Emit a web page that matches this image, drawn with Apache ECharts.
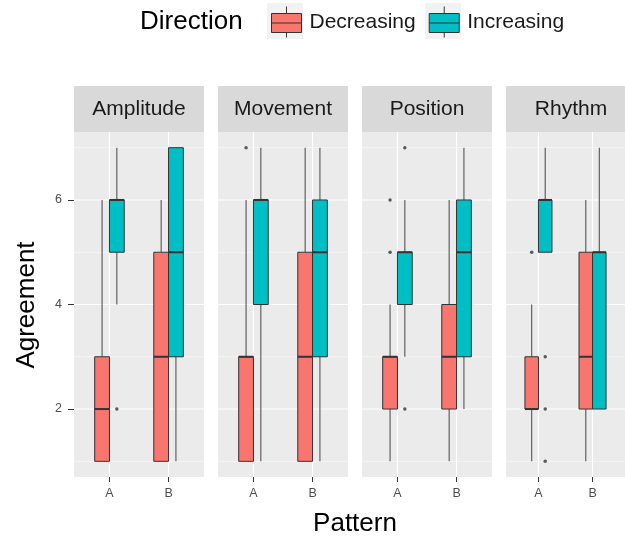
<!DOCTYPE html>
<html><head><meta charset="utf-8">
<script src="https://cdn.jsdelivr.net/npm/echarts@6/dist/echarts.min.js"></script>
<style>html,body{margin:0;padding:0;background:#fff}#c{width:625px;height:538px}</style>
</head><body><div id="c"></div>
<script>
// ---- data ----
const panels = ['Amplitude', 'Movement', 'Position', 'Rhythm'];
const patterns = ['A', 'B'];
const directions = ['Decreasing', 'Increasing'];
const yTicks = [2, 4, 6];
const yMinor = [1, 3, 5, 7];
// five-number summaries [min, Q1, median, Q3, max] for pattern A, pattern B
const amplitudeDecreasing = [[1, 1, 2, 3, 6], [1, 1, 3, 5, 6]];
const amplitudeIncreasing = [[4, 5, 6, 6, 7], [1, 3, 5, 7, 7]];
const movementDecreasing  = [[1, 1, 3, 3, 6], [1, 1, 3, 5, 7]];
const movementIncreasing  = [[1, 4, 6, 6, 7], [1, 3, 5, 6, 7]];
const positionDecreasing  = [[1, 2, 3, 3, 4], [1, 2, 3, 4, 6]];
const positionIncreasing  = [[3, 4, 5, 5, 6], [2, 3, 5, 6, 7]];
const rhythmDecreasing    = [[1, 2, 2, 3, 4], [1, 2, 3, 5, 6]];
const rhythmIncreasing    = [[5, 5, 6, 6, 7], [2, 2, 5, 5, 7]];
// outliers for pattern A, pattern B
const amplitudeDecreasingOut = [[], []];
const amplitudeIncreasingOut = [[2], []];
const movementDecreasingOut  = [[7], []];
const movementIncreasingOut  = [[], []];
const positionDecreasingOut  = [[5, 6], []];
const positionIncreasingOut  = [[2, 7], []];
const rhythmDecreasingOut    = [[5], []];
const rhythmIncreasingOut    = [[1, 2, 3], []];

const summaries = [
  [amplitudeDecreasing, amplitudeIncreasing],
  [movementDecreasing, movementIncreasing],
  [positionDecreasing, positionIncreasing],
  [rhythmDecreasing, rhythmIncreasing]
];
const outliers = [
  [amplitudeDecreasingOut, amplitudeIncreasingOut],
  [movementDecreasingOut, movementIncreasingOut],
  [positionDecreasingOut, positionIncreasingOut],
  [rhythmDecreasingOut, rhythmIncreasingOut]
];

// ---- style / layout ----
const colors = ['#F8766D', '#00BFC4'];
const FONT = '"Liberation Sans", Arial, Helvetica, sans-serif';
const gridLeft = [74, 218, 362, 506];
const gridW = 130, gridTop = 132, gridH = 345;
const halfBox = 0.125;          // half width of one dodged box (x units)
const dodge = [-0.125, 0.125];   // dodge offset per direction

const catPos = patterns.map((p, i) => i + 1);

function boxRender(color, off) {
  return function (params, api) {
    const x = api.value(0) + off;
    const l = api.coord([x - halfBox, 1])[0];
    const r = api.coord([x + halfBox, 1])[0];
    const c = api.coord([x, 1])[0];
    const y = k => api.coord([x, api.value(k)])[1];
    const yMin = y(1), yQ1 = y(2), yMed = y(3), yQ3 = y(4), yMax = y(5);
    const wStyle = { stroke: '#555555', lineWidth: 1.1 };
    return {
      type: 'group',
      children: [
        { type: 'line', shape: { x1: c, y1: yQ3, x2: c, y2: yMax }, style: wStyle },
        { type: 'line', shape: { x1: c, y1: yQ1, x2: c, y2: yMin }, style: wStyle },
        { type: 'rect', shape: { x: l, y: yQ3, width: r - l, height: yQ1 - yQ3 },
          style: { fill: color, stroke: '#333333', lineWidth: 1 } },
        { type: 'line', shape: { x1: l, y1: yMed, x2: r, y2: yMed },
          style: { stroke: '#333333', lineWidth: 2 } }
      ]
    };
  };
}

function gridLineRender(params, api) {
  const cs = params.coordSys;
  const dir = api.value(0), v = api.value(1), major = api.value(2);
  const w = major ? 1.1 : 0.5;
  if (dir === 1) {
    const yy = api.coord([1, v])[1];
    return { type: 'line', shape: { x1: cs.x, y1: yy, x2: cs.x + cs.width, y2: yy },
      style: { stroke: '#ffffff', lineWidth: w } };
  }
  const xx = api.coord([v, 4])[0];
  return { type: 'line', shape: { x1: xx, y1: cs.y, x2: xx, y2: cs.y + cs.height },
    style: { stroke: '#ffffff', lineWidth: w } };
}

const grids = [], xAxes = [], yAxes = [], series = [], graphics = [];
panels.forEach((name, i) => {
  grids.push({ left: gridLeft[i], top: gridTop, width: gridW, height: gridH,
    show: true, backgroundColor: '#EBEBEB', borderWidth: 0 });
  xAxes.push({
    gridIndex: i, type: 'value', min: 0.4, max: 2.6,
    axisLine: { show: false }, splitLine: { show: false },
    axisTick: { show: true, customValues: catPos, length: 5, lineStyle: { color: '#333333', width: 1 } },
    axisLabel: { show: true, customValues: catPos, margin: 10, color: '#4D4D4D', fontSize: 12.5,
      fontFamily: FONT, formatter: v => patterns[Math.round(v) - 1] }
  });
  yAxes.push({
    gridIndex: i, type: 'value', min: 0.7, max: 7.3,
    axisLine: { show: false }, splitLine: { show: false },
    axisTick: { show: i === 0, customValues: yTicks, length: 6, lineStyle: { color: '#333333', width: 1 } },
    axisLabel: { show: i === 0, customValues: yTicks, margin: 12, color: '#4D4D4D', fontSize: 12.5, fontFamily: FONT }
  });
  const lineData = yTicks.map(v => [1, v, 1])
    .concat(yMinor.map(v => [1, v, 0]))
    .concat(catPos.map(v => [0, v, 1]));
  series.push({ type: 'custom', xAxisIndex: i, yAxisIndex: i, z: 1, silent: true,
    renderItem: gridLineRender, data: lineData });
  directions.forEach((d, k) => {
    series.push({
      name: d, type: 'custom', xAxisIndex: i, yAxisIndex: i, z: 2,
      itemStyle: { color: colors[k] },
      encode: { x: 0, y: [1, 2, 3, 4, 5] },
      renderItem: boxRender(colors[k], dodge[k]),
      data: summaries[i][k].map((s, j) => [catPos[j]].concat(s))
    });
    const pts = [];
    outliers[i][k].forEach((arr, j) => arr.forEach(v => pts.push([catPos[j] + dodge[k], v])));
    series.push({
      name: d, type: 'scatter', xAxisIndex: i, yAxisIndex: i, z: 3,
      symbolSize: 3.5, itemStyle: { color: '#333333' }, data: pts, silent: true
    });
  });
  graphics.push({ type: 'rect', left: gridLeft[i], top: 86, z: 0,
    shape: { width: gridW, height: 46 }, style: { fill: '#D9D9D9' } });
  graphics.push({ type: 'text', x: gridLeft[i] + gridW / 2, y: 109, z: 1,
    style: { text: name, fill: '#1A1A1A', font: '21px ' + FONT, textAlign: 'center', textVerticalAlign: 'middle' } });
});

// legend key backgrounds and titles
graphics.push({ type: 'rect', left: 267, top: 3, z: -1, shape: { width: 36, height: 36 }, style: { fill: '#F2F2F2' } });
graphics.push({ type: 'rect', left: 425, top: 3, z: -1, shape: { width: 36, height: 36 }, style: { fill: '#F2F2F2' } });
graphics.push({ type: 'text', x: 140, y: 22,
  style: { text: 'Direction', fill: '#000000', font: '26px ' + FONT, textAlign: 'left', textVerticalAlign: 'middle' } });
graphics.push({ type: 'text', x: 355, y: 524,
  style: { text: 'Pattern', fill: '#000000', font: '26px ' + FONT, textAlign: 'center', textVerticalAlign: 'middle' } });
graphics.push({ type: 'text', x: 27, y: 305, rotation: Math.PI / 2,
  style: { text: 'Agreement', fill: '#000000', font: '26px ' + FONT, textAlign: 'center', textVerticalAlign: 'middle' } });

const chart = echarts.init(document.getElementById('c'), null, { renderer: 'canvas' });
chart.setOption({
  animation: false,
  backgroundColor: '#ffffff',
  grid: grids, xAxis: xAxes, yAxis: yAxes, series: series,
  legend: {
    data: directions, left: 271, top: 6, orient: 'horizontal', padding: 0,
    itemWidth: 30, itemHeight: 31, itemGap: 13,
    icon: 'path://M0,7L30,7L30,26L0,26Z M15,0L15,7 M15,26L15,31 M0,16.5L30,16.5',
    itemStyle: { borderColor: '#333333', borderWidth: 1 },
    textStyle: { fontSize: 21, color: '#1A1A1A', fontFamily: FONT, padding: [0, 0, 0, 3] },
    selectedMode: false
  },
  graphic: graphics
});
</script>
</body></html>
